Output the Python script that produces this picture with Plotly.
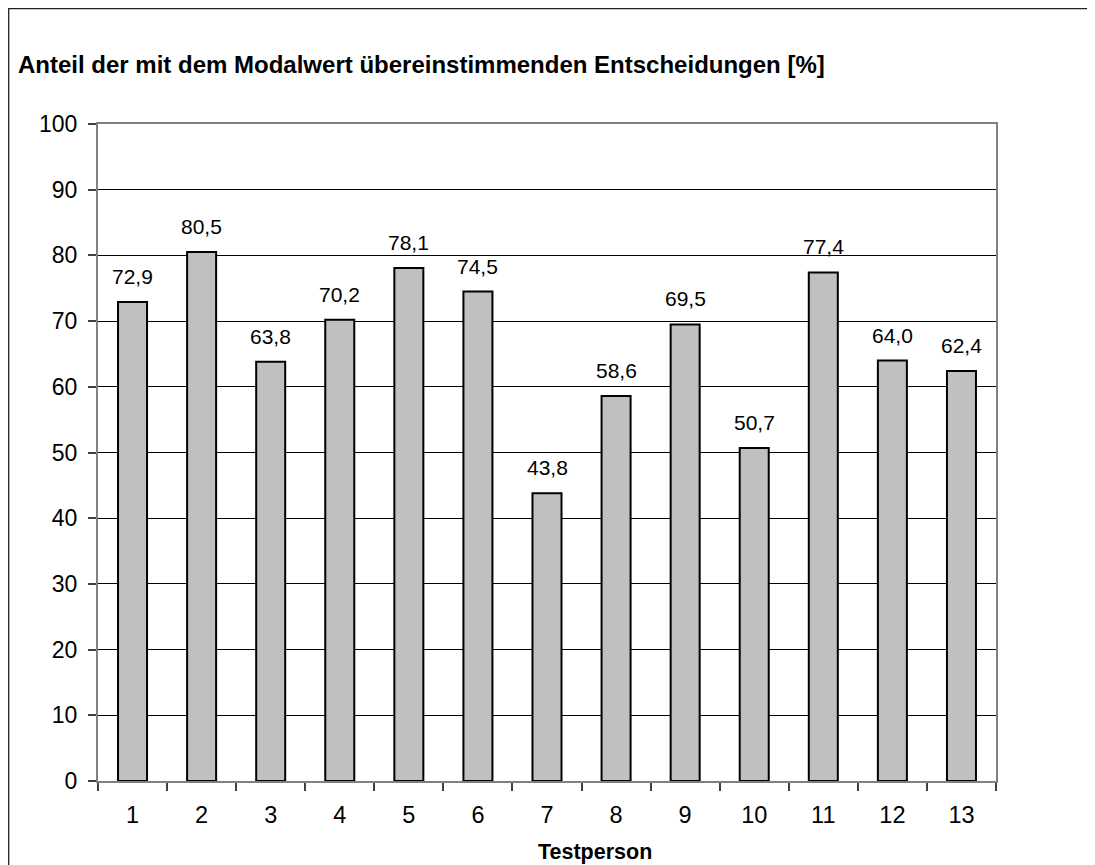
import plotly.graph_objects as go

categories = ["1", "2", "3", "4", "5", "6", "7", "8", "9", "10", "11", "12", "13"]
values = [72.9, 80.5, 63.8, 70.2, 78.1, 74.5, 43.8, 58.6, 69.5, 50.7, 77.4, 64.0, 62.4]
y_ticks = [0, 10, 20, 30, 40, 50, 60, 70, 80, 90, 100]
title_text = "Anteil der mit dem Modalwert übereinstimmenden Entscheidungen [%]"
x_title = "Testperson"

FONT = "Liberation Sans, Arial, sans-serif"
# page has an 8px body margin; figure sized to fit the window
W, H = 1087, 857
L, T = 90, 116
pw, ph = 898, 657
R, B = W - L - pw, H - T - ph

fig = go.Figure()
fig.add_trace(go.Bar(
    x=categories, y=values,
    marker=dict(color="#C0C0C0", line=dict(color="black", width=2)),
    hoverinfo="x+y",
))

annotations = []
for i, v in enumerate(values):
    annotations.append(dict(
        x=i, y=v, xref="x", yref="y", text=f"{v:.1f}".replace(".", ","),
        showarrow=False, yanchor="bottom", yshift=12,
        font=dict(family=FONT, size=21, color="black"),
    ))
annotations.append(dict(
    x=(586.5 - L) / pw, y=(H - B - 844) / ph, xref="paper", yref="paper",
    text=f"<b>{x_title}</b>", showarrow=False, xanchor="center", yanchor="middle",
    font=dict(family=FONT, size=21.5, color="black"),
))

fig.update_layout(
    width=W, height=H,
    margin=dict(l=L, r=R, t=T, b=B, autoexpand=False),
    paper_bgcolor="white", plot_bgcolor="white",
    separators=",.",
    bargap=0.58,
    showlegend=False,
    title=dict(
        text=f"<b>{title_text}</b>", x=10 / W, xanchor="left",
        y=1 - 57 / H, yanchor="middle", yref="container", xref="container",
        font=dict(family=FONT, size=24, color="black"),
    ),
    annotations=annotations,
    shapes=[dict(type="rect", xref="paper", yref="paper",
                 x0=(0.7 - L) / pw, x1=1.3, y0=-0.5, y1=(H - B - 0.7) / ph,
                 line=dict(color="#222222", width=1.3), layer="below")],
    xaxis=dict(
        type="category", tickson="boundaries", ticks="outside", ticklen=8,
        tickcolor="#404040", tickwidth=1.5, ticklabelstandoff=12,
        showline=True, linecolor="#808080", linewidth=2, mirror=True,
        tickfont=dict(family=FONT, size=23.5, color="black"),
        showgrid=False, fixedrange=True,
    ),
    yaxis=dict(
        range=[0, 100], tickvals=y_ticks, ticks="outside", ticklen=8,
        tickcolor="#404040", tickwidth=1.5, ticklabelstandoff=6,
        showline=True, linecolor="#808080", linewidth=2, mirror=True,
        showgrid=True, gridcolor="black", gridwidth=1,
        tickfont=dict(family=FONT, size=23, color="black"),
        zeroline=False, fixedrange=True,
    ),
)

fig.write_html("out.html")
